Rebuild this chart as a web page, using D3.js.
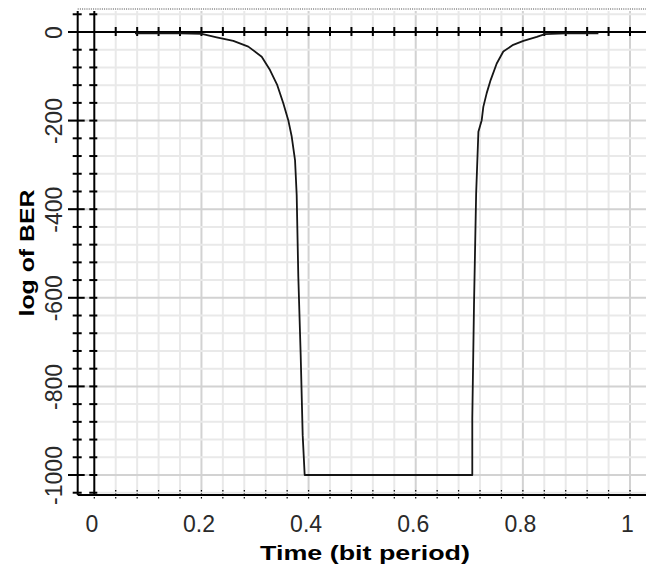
<!DOCTYPE html>
<html>
<head>
<meta charset="utf-8">
<script src="https://cdn.jsdelivr.net/npm/d3@7"></script>
<style>
  html, body { margin: 0; padding: 0; background: #fff; }
  svg { display: block; }
</style>
</head>
<body>
<svg id="chart" width="646" height="571"></svg>
<script>
// ---- data ----
const timeValues = [0.076, 0.12, 0.16, 0.2005, 0.2285, 0.2595, 0.2875, 0.3125, 0.328, 0.3416, 0.3528, 0.3621, 0.3685, 0.3747, 0.3778, 0.3808, 0.3853, 0.389, 0.3927,
                    0.7056, 0.7056, 0.7088, 0.7128, 0.7170, 0.7232, 0.7262, 0.7325, 0.740, 0.7512, 0.7635, 0.782, 0.801, 0.826, 0.841, 0.88, 0.941];
const berValues  = [-3, -3, -3, -4, -12, -20, -33, -56, -86, -120, -161, -199, -236, -289, -368, -551, -731, -910, -1000,
                    -1000, -872, -616, -364, -225, -199, -169, -138, -108, -71, -44, -29, -20, -11, -5, -3, -3];
const xTickValues = [0, 0.2, 0.4, 0.6, 0.8, 1];
const xTickLabels = ["0", "0.2", "0.4", "0.6", "0.8", "1"];
const yTickValues = [0, -200, -400, -600, -800, -1000];
const yTickLabels = ["0", "-200", "-400", "-600", "-800", "-1000"];
const xMinorStep = 0.04;
const yMinorStep = 40;
const xTitle = "Time (bit period)";
const yTitle = "log of BER";

// ---- scales ----
const x = d3.scaleLinear().domain([0, 1]).range([94.3, 630]);
const y = d3.scaleLinear().domain([0, -1000]).range([32, 475]);

const svg = d3.select("#chart");
const leftFrame = x(-0.031), rightEdge = 646;
const topEdge = 11, bottomEdge = y(-1045);

const xMinor = d3.range(1, 27).map(i => +(i * xMinorStep).toFixed(2));
const yMinor = d3.range(-26, 2).map(i => i * yMinorStep);
const isXMajor = v => Math.abs(v / 0.2 - Math.round(v / 0.2)) < 1e-6;
const isYMajor = v => v % 200 === 0;

// grid
const grid = svg.append("g");
grid.selectAll("line.vg").data(xMinor).join("line")
  .attr("x1", d => x(d)).attr("x2", d => x(d))
  .attr("y1", topEdge).attr("y2", bottomEdge)
  .attr("stroke", d => isXMajor(d) ? "#d2d2d2" : "#e9e9e9")
  .attr("stroke-width", 2);
grid.selectAll("line.hg").data(yMinor.filter(v => v !== 0)).join("line")
  .attr("x1", d => isYMajor(d) ? 68 : x(0)).attr("x2", rightEdge)
  .attr("y1", d => y(d)).attr("y2", d => y(d))
  .attr("stroke", d => isYMajor(d) ? "#d2d2d2" : "#e9e9e9")
  .attr("stroke-width", 2);

// top dotted border
svg.append("line")
  .attr("x1", leftFrame).attr("x2", rightEdge).attr("y1", 9).attr("y2", 9)
  .attr("stroke", "#444").attr("stroke-width", 1).attr("stroke-dasharray", "1,1.2");

// axes lines
const axes = svg.append("g").attr("stroke", "#000");
axes.append("line").attr("x1", leftFrame).attr("x2", leftFrame).attr("y1", topEdge).attr("y2", bottomEdge).attr("stroke-width", 2);
axes.append("line").attr("x1", x(0)).attr("x2", x(0)).attr("y1", topEdge).attr("y2", bottomEdge).attr("stroke-width", 2);
axes.append("line").attr("x1", leftFrame).attr("x2", rightEdge).attr("y1", bottomEdge).attr("y2", bottomEdge).attr("stroke-width", 2);
axes.append("line").attr("x1", 68).attr("x2", rightEdge).attr("y1", y(0)).attr("y2", y(0)).attr("stroke-width", 2);

// y ticks on both vertical lines
axes.selectAll("line.yt1").data(yMinor).join("line")
  .attr("x1", d => isYMajor(d) ? 68 : leftFrame - 5).attr("x2", d => isYMajor(d) ? leftFrame + 7 : leftFrame + 4)
  .attr("y1", d => y(d)).attr("y2", d => y(d)).attr("stroke-width", 2);
axes.selectAll("line.yt2").data(yMinor).join("line")
  .attr("x1", x(0) - 5).attr("x2", x(0) + 3)
  .attr("y1", d => y(d)).attr("y2", d => y(d)).attr("stroke-width", 2);

// x ticks on zero line and bottom line
axes.selectAll("line.xt1").data(xMinor).join("line")
  .attr("x1", d => x(d)).attr("x2", d => x(d))
  .attr("y1", y(0) - 5).attr("y2", y(0) + 4).attr("stroke-width", 2);
axes.selectAll("line.xt2").data([0, ...xMinor]).join("line")
  .attr("x1", d => x(d)).attr("x2", d => x(d))
  .attr("y1", bottomEdge - 5).attr("y2", bottomEdge + 4).attr("stroke-width", 1.2)
  .attr("stroke-dasharray", "1.5,2");

// curve
const line = d3.line().x((d, i) => x(timeValues[i])).y((d, i) => y(berValues[i]));
svg.append("path").datum(berValues)
  .attr("d", line)
  .attr("fill", "none").attr("stroke", "#161616").attr("stroke-width", 1.8)
  .attr("stroke-linejoin", "round");

// tick labels via d3 axes
const fontFam = "'Liberation Sans', Arial, sans-serif";
const xAxis = d3.axisBottom(x).tickValues(xTickValues).tickSize(0).tickPadding(0)
  .tickFormat((d, i) => xTickLabels[i]);
const gx = svg.append("g").attr("transform", "translate(-3, 532)").call(xAxis);
gx.select(".domain").remove();
gx.selectAll("text").attr("dy", 0).attr("y", 0)
  .style("font-family", fontFam).style("font-size", "23px").attr("fill", "#2a2a2a");

const yAxis = d3.axisLeft(y).tickValues(yTickValues).tickSize(0).tickPadding(0)
  .tickFormat((d, i) => yTickLabels[i]);
const gy = svg.append("g").attr("transform", "translate(62, 0)").call(yAxis);
gy.select(".domain").remove();
gy.selectAll(".tick text")
  .attr("x", 0).attr("dy", 0).attr("text-anchor", "middle")
  .attr("transform", "rotate(-90)")
  .style("font-family", fontFam).style("font-size", "23px").attr("fill", "#2a2a2a");

// titles
svg.append("text").text(xTitle)
  .attr("x", 365).attr("y", 560).attr("text-anchor", "middle")
  .attr("textLength", 210).attr("lengthAdjust", "spacingAndGlyphs")
  .style("font-family", fontFam).style("font-weight", "bold").style("font-size", "21px");
svg.append("text").text(yTitle)
  .attr("transform", "translate(34, 253) rotate(-90)").attr("text-anchor", "middle")
  .attr("textLength", 127).attr("lengthAdjust", "spacingAndGlyphs")
  .style("font-family", fontFam).style("font-weight", "bold").style("font-size", "21px");
</script>
</body>
</html>
